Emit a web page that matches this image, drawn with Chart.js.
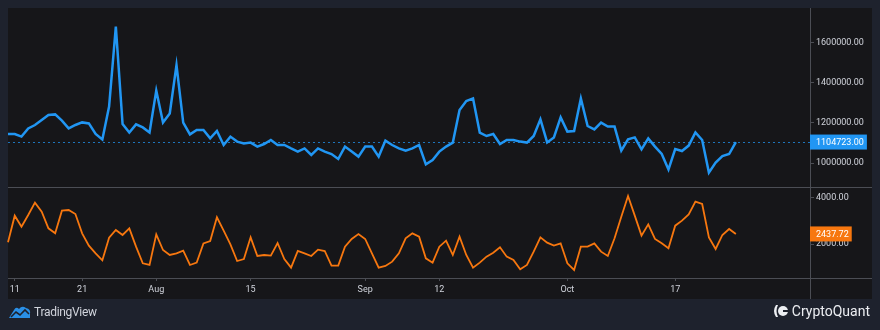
<!DOCTYPE html>
<html lang="en">
<head>
<meta charset="UTF-8">
<title>Netflow / Transactions</title>
<script src="https://cdn.jsdelivr.net/npm/chart.js"></script>
<style>
  body { margin: 0; background: #1e222d; font-family: Roboto, sans-serif; }
  .wrap { position: relative; width: 880px; height: 330px; overflow: hidden; }
  .panel { position: absolute; left: 8px; top: 8px; width: 864px; height: 291px; background: #161619; }
  .wrap canvas { position: absolute; left: 0; top: 0; }
  .tv { position: absolute; left: 8px; top: 304px; display: flex; align-items: center; color: #d1d4dc; font-size: 12px; letter-spacing: -0.3px; }
  .tv svg { margin-right: 3px; }
  .cq { position: absolute; right: 10px; top: 303px; display: flex; align-items: center; color: #eceef2; font-size: 14px; }
  .cq svg { margin-right: 4px; }
</style>
</head>
<body>
<div class="wrap">
  <div class="panel"></div>
  <canvas id="chart" width="880" height="330"></canvas>
  <div class="tv">
    <svg width="23" height="16" viewBox="0 0 23 16">
      <path d="M1 14 L6 6 Q8 2 11 5 Q14 1 18 4 Q23 5 22 10 L22 14 Z" fill="#2a8fe6"/>
      <path d="M3 13 L8 8 L12 11 L17 6 L21 10" stroke="#1e222d" stroke-width="1.6" fill="none"/>
    </svg>
    TradingView
  </div>
  <div class="cq">
    <svg width="16" height="14" viewBox="0 0 16 14">
      <path d="M4 1 Q0 7 4 13 L6 13 Q3 7 6 1 Z" fill="#eceef2"/>
      <circle cx="11" cy="7" r="5" fill="#eceef2"/>
      <rect x="11" y="6" width="5" height="2" fill="#1e222d"/>
    </svg>
    CryptoQuant
  </div>
</div>

<script>
  // daily values, Jul 10 -> Oct 26
  const flowValues = [
    1145000, 1145000, 1132000, 1173000, 1190000, 1215000, 1240000, 1243000, 1212000, 1173000,
    1190000, 1203000, 1198000, 1145000, 1118000, 1282000, 1682000, 1195000, 1152000, 1193000,
    1178000, 1153000, 1362000, 1202000, 1248000, 1490000, 1202000, 1143000, 1165000, 1165000,
    1123000, 1160000, 1090000, 1132000, 1107000, 1098000, 1102000, 1082000, 1095000, 1115000,
    1090000, 1090000, 1073000, 1057000, 1073000, 1040000, 1073000, 1057000, 1045000, 1020000,
    1082000, 1057000, 1032000, 1082000, 1082000, 1032000, 1112000, 1090000, 1073000, 1062000,
    1073000, 1090000, 993000, 1015000, 1057000, 1082000, 1102000, 1265000, 1310000, 1323000,
    1152000, 1135000, 1145000, 1095000, 1115000, 1115000, 1107000, 1102000, 1135000, 1218000,
    1103000, 1128000, 1228000, 1157000, 1160000, 1323000, 1185000, 1168000, 1202000, 1182000,
    1182000, 1062000, 1118000, 1128000, 1068000, 1123000, 1082000, 1045000, 968000, 1070000,
    1060000, 1087000, 1153000, 1115000, 952000, 1002000, 1035000, 1045000, 1104723
  ];
  const txValues = [
    2073, 3232, 2754, 3261, 3797, 3406, 2681, 2464, 3449, 3478,
    3304, 2464, 1928, 1595, 1290, 2276, 2609, 2392, 2681, 1884,
    1160, 1088, 2421, 1740, 1522, 1595, 1711, 1088, 1189, 2029,
    2131, 3160, 2580, 1986, 1261, 1348, 2290, 1479, 1522, 1493,
    2044, 1348, 972, 1696, 1595, 1479, 1754, 1696, 1059, 1059,
    1884, 2218, 2435, 2218, 1595, 972, 1044, 1232, 1595, 2247,
    2464, 2319, 1377, 1189, 1884, 2145, 1522, 2319, 1522, 972,
    1189, 1450, 1624, 1855, 1450, 1305, 899, 1088, 1667, 2290,
    2058, 1928, 2029, 1160, 870, 1884, 1884, 2029, 1667, 1479,
    2247, 3189, 4087, 3232, 2363, 2855, 2218, 2029, 1812, 2797,
    3015, 3290, 3841, 3739, 2290, 1783, 2392, 2652, 2437.72
  ];

  const flowTicks = [1000000, 1200000, 1400000, 1600000];
  const txTicks = [2000, 4000];
  const markDays = ['Jul 11', 'Jul 21', 'Aug 1', 'Aug 15', 'Sep 1', 'Sep 12', 'Oct 1', 'Oct 17'];
  const markText = ['11', '21', 'Aug', '15', 'Sep', '12', 'Oct', '17'];

  // one label per day, with some empty room on the right
  const monthNames = ['Jan', 'Feb', 'Mar', 'Apr', 'May', 'Jun', 'Jul', 'Aug', 'Sep', 'Oct', 'Nov', 'Dec'];
  const days = [];
  const d = new Date(Date.UTC(2023, 6, 10));
  for (let k = 0; k < 120; k++) {
    days.push(monthNames[d.getUTCMonth()] + ' ' + d.getUTCDate());
    d.setUTCDate(d.getUTCDate() + 1);
  }

  const BLUE = '#2196f3';
  const ORANGE = '#f7770f';
  const LINE = '#4b4d54';
  const TEXT = '#d1d4dc';
  const tickFont = { family: 'Roboto', size: 9 };

  const paneLines = {
    id: 'paneLines',
    beforeDatasetsDraw(chart) {
      const { ctx, chartArea } = chart;
      const y = chart.scales.y.getPixelForValue(flowValues[flowValues.length - 1]);
      ctx.save();
      ctx.strokeStyle = 'rgba(33,150,243,0.75)';
      ctx.lineWidth = 1;
      ctx.setLineDash([2, 3]);
      ctx.beginPath();
      ctx.moveTo(chartArea.left, Math.round(y) + 0.5);
      ctx.lineTo(chartArea.right, Math.round(y) + 0.5);
      ctx.stroke();
      ctx.restore();
    },
    afterDraw(chart) {
      const { ctx, chartArea, scales } = chart;
      const right = scales.y.right;
      ctx.save();
      ctx.strokeStyle = LINE;
      ctx.lineWidth = 1;
      ctx.beginPath();
      // separators between panes and the axis line
      [scales.y.bottom, chartArea.bottom].forEach(v => {
        ctx.moveTo(chartArea.left, Math.round(v) + 0.5);
        ctx.lineTo(right, Math.round(v) + 0.5);
      });
      ctx.moveTo(Math.round(chartArea.right) + 0.5, chartArea.top);
      ctx.lineTo(Math.round(chartArea.right) + 0.5, scales.x.bottom);
      ctx.stroke();

      // last value tags
      ctx.font = '9px Roboto';
      ctx.textBaseline = 'middle';
      [['y', flowValues, BLUE], ['y2', txValues, ORANGE]].forEach(([id, vals, col]) => {
        const s = scales[id];
        const v = vals[vals.length - 1];
        const py = s.getPixelForValue(v);
        const txt = v.toFixed(2);
        const w = ctx.measureText(txt).width;
        ctx.fillStyle = col;
        ctx.fillRect(s.left, py - 7.5, w + 9, 15);
        ctx.fillStyle = '#ffffff';
        ctx.fillText(txt, s.left + 6, py + 0.5);
      });
      ctx.restore();
    }
  };

  new Chart(document.getElementById('chart'), {
    type: 'line',
    data: {
      labels: days,
      datasets: [
        { data: flowValues, yAxisID: 'y', borderColor: BLUE, borderWidth: 2.5 },
        { data: txValues, yAxisID: 'y2', borderColor: ORANGE, borderWidth: 1.8 }
      ]
    },
    options: {
      responsive: false,
      animation: false,
      events: [],
      layout: { padding: { left: 8, top: 8, right: 8, bottom: 31 } },
      elements: { point: { radius: 0 }, line: { tension: 0 } },
      plugins: { legend: { display: false }, tooltip: { enabled: false } },
      scales: {
        x: {
          type: 'category',
          offset: false,
          afterFit: s => { s.height = 21; },
          border: { display: false },
          grid: { drawOnChartArea: false, tickLength: 3, color: LINE },
          ticks: {
            autoSkip: false,
            maxRotation: 0,
            padding: 3,
            color: TEXT,
            font: tickFont,
            callback(val) {
              const k = markDays.indexOf(this.getLabelForValue(val));
              return k < 0 ? null : markText[k];
            }
          }
        },
        y: {
          position: 'right',
          stack: 'panes',
          stackWeight: 179,
          min: 880000,
          max: 1775000,
          afterFit: s => { s.width = 62; },
          afterBuildTicks: s => { s.ticks = flowTicks.map(v => ({ value: v })); },
          border: { display: false },
          grid: { drawOnChartArea: false, tickLength: 4, color: LINE },
          ticks: { padding: 2, color: TEXT, font: tickFont, callback: v => v.toFixed(2) }
        },
        y2: {
          position: 'right',
          stack: 'panes',
          stackWeight: 91,
          min: 522,
          max: 4478,
          afterFit: s => { s.width = 62; },
          afterBuildTicks: s => { s.ticks = txTicks.map(v => ({ value: v })); },
          border: { display: false },
          grid: { drawOnChartArea: false, tickLength: 4, color: LINE },
          ticks: { padding: 2, color: TEXT, font: tickFont, callback: v => v.toFixed(2) }
        }
      }
    },
    plugins: [paneLines]
  });
</script>
</body>
</html>
